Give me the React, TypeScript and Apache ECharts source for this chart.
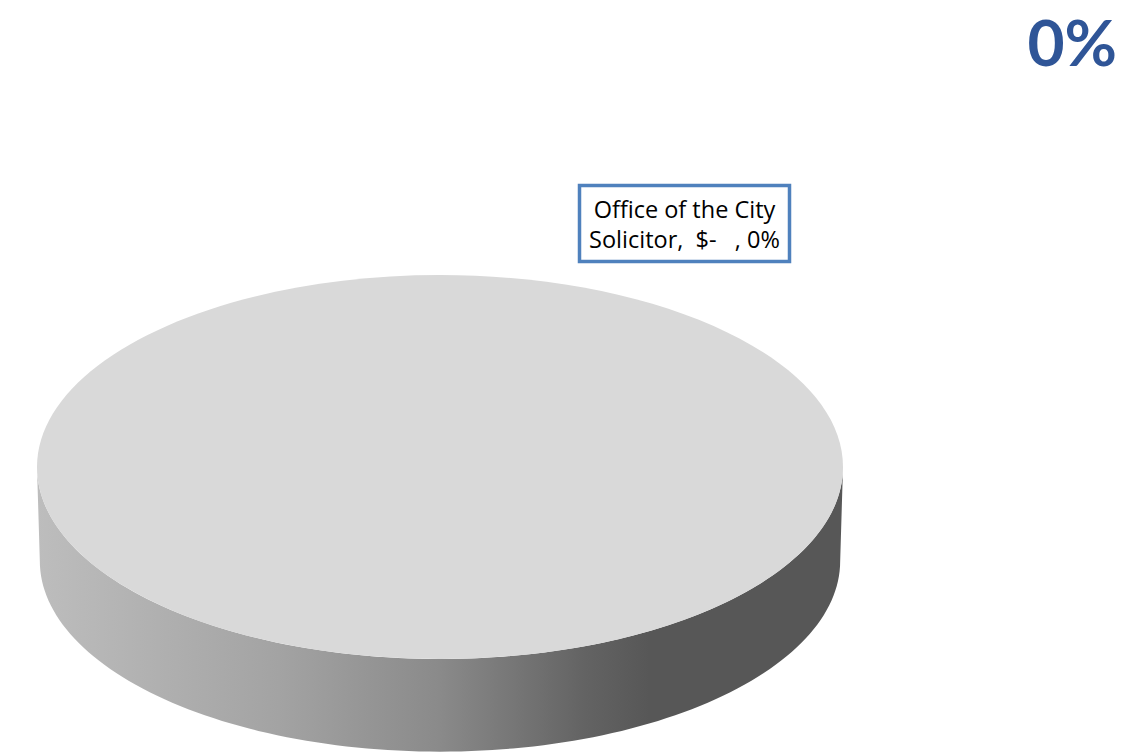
import React, { useEffect, useRef } from "react";
import * as echarts from "echarts";

const categories = ["Office of the City Solicitor"];
const values = [0];
const titleText = "0%";

function fmtMoney(v: number) {
  return v === 0 ? "$-   " : "$" + v.toLocaleString("en-US");
}

export default function App() {
  const ref = useRef<HTMLDivElement>(null);
  useEffect(() => {
    document.body.style.margin = "0";
    const chart = echarts.init(ref.current!, null, { renderer: "svg" });
    const total = values.reduce((a, b) => a + b, 0);
    const shares = values.map((v) => (total > 0 ? v / total : 1 / values.length));
    const pcts = values.map((v) => (total > 0 ? Math.round((v / total) * 100) : 0));

    const cx = 440, cy = 467, rx = 403, ry = 192, depth = 94;
    const pt = (deg: number, dy = 0, k = 1) => {
      const t = (deg * Math.PI) / 180;
      return [cx + rx * k * Math.sin(t), cy - ry * k * Math.cos(t) + dy];
    };

    const renderItem = (params: any) => {
      const i = params.dataIndex;
      let start = 0;
      for (let j = 0; j < i; j++) start += shares[j] * 360;
      const end = start + shares[i] * 360;
      const children: any[] = [];
      const s0 = Math.max(start, 90), s1 = Math.min(end, 270);
      if (s1 > s0) {
        const pts: number[][] = [];
        const n = 120;
        for (let k = 0; k <= n; k++) pts.push(pt(s0 + ((s1 - s0) * k) / n));
        for (let k = n; k >= 0; k--) pts.push(pt(s0 + ((s1 - s0) * k) / n, depth, 0.993));
        children.push({
          type: "polygon",
          shape: { points: pts },
          style: {
            fill: {
              type: "linear", x: cx - rx, y: 0, x2: cx + rx, y2: 0, global: true,
              colorStops: [
                { offset: 0, color: "#bdbdbd" },
                { offset: 0.3, color: "#a3a3a3" },
                { offset: 0.5, color: "#8a8a8a" },
                { offset: 0.68, color: "#636363" },
                { offset: 0.76, color: "#575757" },
                { offset: 1, color: "#575757" },
              ],
            },
          },
        });
      }
      if (shares[i] >= 0.9999) {
        children.push({ type: "ellipse", shape: { cx, cy, rx, ry }, style: { fill: "#d9d9d9" } });
      } else {
        const pts: number[][] = [[cx, cy]];
        const n = 120;
        for (let k = 0; k <= n; k++) pts.push(pt(start + ((end - start) * k) / n));
        children.push({ type: "polygon", shape: { points: pts }, style: { fill: "#d9d9d9" } });
      }
      const bx = 579.5, by = 185.5, bw = 210, bh = 76;
      children.push({
        type: "rect",
        shape: { x: bx, y: by, width: bw, height: bh },
        style: { fill: "#ffffff", stroke: "#4f81bd", lineWidth: 3.5 },
      });
      const words = categories[i].split(" ");
      const line1 = words.slice(0, 4).join(" ");
      const line2 = words.slice(4).join(" ") + ",  " + fmtMoney(values[i]) + ", " + pcts[i] + "%";
      children.push({
        type: "text",
        style: {
          text: line1 + "\n" + line2,
          x: bx + bw / 2, y: 224,
          align: "center", verticalAlign: "middle",
          fill: "#000000", fontSize: 23.5, fontFamily: "Open Sans", lineHeight: 30,
        },
      });
      return { type: "group", children };
    };

    chart.setOption({
      animation: false,
      title: {
        text: titleText,
        right: 20, top: 4,
        textStyle: { fontSize: 64, fontWeight: "bold", color: "#2f5597", fontFamily: "Lato" },
      },
      series: [
        {
          type: "custom",
          coordinateSystem: "none",
          renderItem,
          data: values.map((v, i) => ({ name: categories[i], value: [v] })),
        },
      ],
    });
    return () => chart.dispose();
  }, []);
  return <div ref={ref} style={{ width: 1142, height: 753 }} />;
}
